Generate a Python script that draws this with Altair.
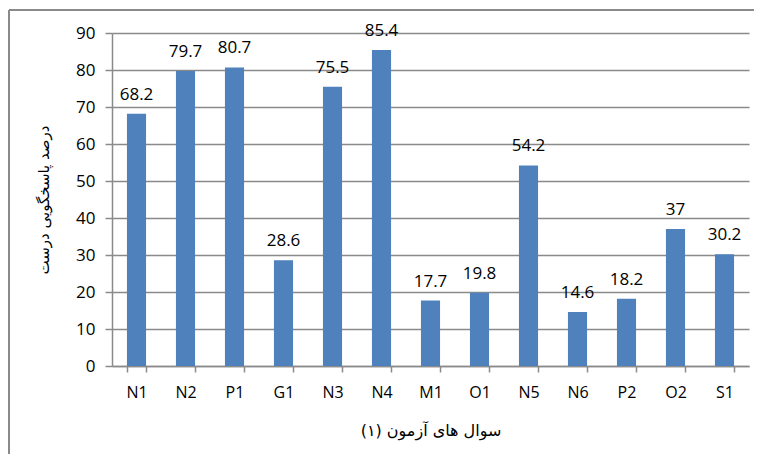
import altair as alt
import pandas as pd

categories = ["N1", "N2", "P1", "G1", "N3", "N4", "M1", "O1", "N5", "N6", "P2", "O2", "S1"]
values = [68.2, 79.7, 80.7, 28.6, 75.5, 85.4, 17.7, 19.8, 54.2, 14.6, 18.2, 37, 30.2]
y_ticks = [0, 10, 20, 30, 40, 50, 60, 70, 80, 90]
x_title = "سوال های آزمون (۱)"
y_title = "درصد پاسخگویی درست"

df = pd.DataFrame({"q": categories, "v": values, "lab": [f"{v:g}" for v in values]})

W, H = 637, 333
FONT = "Open Sans"
GRAY = "#8a8a8a"

x_enc = alt.X("q:N", sort=categories, title=x_title,
              scale=alt.Scale(paddingInner=0.61, paddingOuter=0.305),
              axis=alt.Axis(labelAngle=0, tickBand="extent", tickSize=6, labelPadding=12,
                            labelFontSize=16, titleFontSize=16, titlePadding=22,
                            domainColor=GRAY, tickColor=GRAY, domainWidth=1.5, tickWidth=1.5,
                            labelColor="#000", titleColor="#000", labelFont=FONT, titleFont="DejaVu Sans",
                            titleFontWeight="normal"))
y_enc = alt.Y("v:Q", title=y_title,
              scale=alt.Scale(domain=[0, 90], nice=False),
              axis=alt.Axis(values=y_ticks, labelOverlap=False, tickSize=7, labelPadding=10,
                            labelFontSize=17, titleFontSize=15, titlePadding=24, grid=True,
                            gridColor=GRAY, gridWidth=1.5,
                            domainColor=GRAY, tickColor=GRAY, domainWidth=1.5, tickWidth=1.5,
                            labelColor="#000", titleColor="#000", labelFont=FONT, titleFont="DejaVu Sans",
                            titleFontWeight="normal"))

base = alt.Chart(df).encode(x=x_enc, y=y_enc)
bars = base.mark_bar(color="#4F81BD")
text = base.mark_text(baseline="alphabetic", dy=-14, fontSize=17, font=FONT, color="#000").encode(
    text="lab:N")

frame_data = alt.Data(values=[{"a": 1}])
left_line = alt.Chart(frame_data).mark_rule(color=GRAY, strokeWidth=2).encode(
    x=alt.value(-103), y=alt.value(-23), y2=alt.value(H + 120))
top_line = alt.Chart(frame_data).mark_rule(color=GRAY, strokeWidth=2).encode(
    x=alt.value(-103), x2=alt.value(W + 5), y=alt.value(-23))

chart = alt.layer(bars, text, left_line, top_line).properties(
    width=W, height=H,
    background="white",
    autosize=alt.AutoSizeParams(type="none"),
    padding={"left": 104, "top": 25, "right": 5, "bottom": 88},
).configure_view(stroke=None)

chart.save("out.html", embed_options={"renderer": "svg", "actions": False})
